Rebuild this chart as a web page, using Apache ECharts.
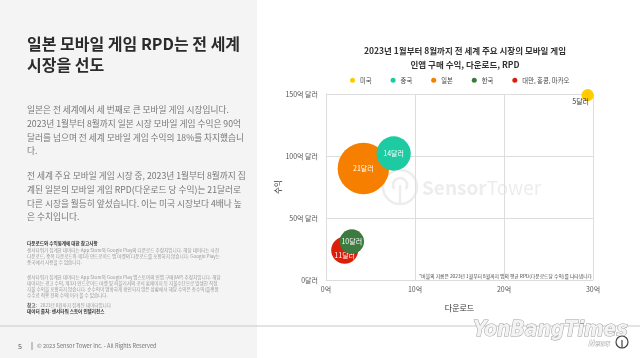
<!DOCTYPE html>
<html><head><meta charset="utf-8">
<script src="https://cdn.jsdelivr.net/npm/echarts@6/dist/echarts.min.js"></script>
<style>html,body{margin:0;padding:0;background:#fff}#c{width:640px;height:358px}</style>
</head><body><div id="c"></div>
<script>
const markets = ['미국', '중국', '일본', '한국', '대만, 홍콩, 마카오'];
const downloads = [29.4, 7.6, 4.2, 2.9, 2.1];   // 억 건
const revenue = [149, 102, 90, 31, 24];         // 억 달러
const rpd = [5, 14, 21, 10, 11];                // 달러
const xTicks = ['0억', '10억', '20억', '30억'];
const yTicks = ['0달러', '50억 달러', '100억 달러', '150억 달러'];

const colors = ['#FFCC00', '#1DCBA2', '#F77F00', '#3D7A3F', '#DA1F0B'];
const FONT = '"Noto Sans CJK KR", "Noto Sans", sans-serif';

const chart = echarts.init(document.getElementById('c'), null, {renderer: 'canvas'});

const labelCfg = [
  {position: 'inside', offset: [-7, 6], color: '#333'},
  {position: 'inside', color: '#fff'},
  {position: 'inside', color: '#fff'},
  {position: 'inside', color: '#fff'},
  {position: 'inside', offset: [0, 5], color: '#fff'}
];
const zOrder = [5, 4, 2, 4, 3];

const series = markets.map((m, i) => ({
  name: m,
  type: 'scatter',
  z: zOrder[i],
  data: [[downloads[i], revenue[i], rpd[i]]],
  symbolSize: d => d[2] * 2.45,
  itemStyle: {color: colors[i], opacity: 1},
  label: Object.assign({
    show: true,
    formatter: p => p.data[2] + '달러',
    fontSize: 7, fontFamily: FONT
  }, labelCfg[i]),
  emphasis: {disabled: true}
}));

const leftLines1 = [
  '일본은 전 세계에서 세 번째로 큰 모바일 게임 시장입니다.',
  '2023년 1월부터 8월까지 일본 시장 모바일 게임 수익은 90억',
  '달러를 넘으며 전 세계 모바일 게임 수익의 18%를 차지했습니',
  '다.'
];
const leftLines2 = [
  '전 세계 주요 모바일 게임 시장 중, 2023년 1월부터 8월까지 집',
  '계된 일본의 모바일 게임 RPD(다운로드 당 수익)는 21달러로',
  '다른 시장을 월등히 앞섰습니다. 이는 미국 시장보다 4배나 높',
  '은 수치입니다.'
];
const noteLines1 = [
  '센서타워가 집계한 데이터는 App Store와 Google Play의 다운로드 추정치입니다. 해당 데이터는 사전',
  '다운로드, 중복 다운로드와 제3자 안드로이드 앱 마켓의 다운로드를 포함하지 않습니다. Google Play는',
  '중국에서 사용할 수 없습니다.'
];
const noteLines2 = [
  '센서타워가 집계한 데이터는 App Store와 Google Play 앱스토어의 인앱 구매(IAP) 추정치입니다. 해당',
  '데이터는 광고 수익, 제3자 안드로이드 마켓 및 퍼블리셔의 공식 홈페이지 등 지불수단으로 발생한 직접',
  '지불 수익을 포함하지 않습니다. 순수익이 명확하게 확인되지 않은 상황에서 해당 수익은 총수익(플랫폼',
  '수수료 적용 전의 수익)이라 볼 수 있습니다.'
];

const g = [];
g.push({type: 'rect', shape: {x: 0, y: 0, width: 257, height: 358}, style: {fill: '#f4f4f4'}, z: -10, silent: true});
g.push({type: 'line', shape: {x1: 0, y1: 326, x2: 640, y2: 326}, style: {stroke: '#c8c8c8', lineWidth: 1}, z: -5, silent: true});
// headline
g.push({type: 'text', x: 27, y: 44, style: {text: '일본 모바일 게임 RPD는 전 세계', font: 'bold 16px ' + FONT, fill: '#2b2b2b', textVerticalAlign: 'middle'}});
g.push({type: 'text', x: 27, y: 65, style: {text: '시장을 선도', font: 'bold 16px ' + FONT, fill: '#2b2b2b', textVerticalAlign: 'middle'}});
leftLines1.forEach((t, k) => g.push({type: 'text', x: 27, y: 110 + k * 13.7, style: {text: t, font: '8.7px ' + FONT, fill: '#777', textVerticalAlign: 'middle'}}));
leftLines2.forEach((t, k) => g.push({type: 'text', x: 27, y: 176 + k * 13.7, style: {text: t, font: '8.7px ' + FONT, fill: '#777', textVerticalAlign: 'middle'}}));
g.push({type: 'text', x: 27, y: 243, style: {text: '다운로드와 수익통계에 대한 참고사항', font: 'bold 4.6px ' + FONT, fill: '#333', textVerticalAlign: 'middle'}});
noteLines1.forEach((t, k) => g.push({type: 'text', x: 27, y: 250 + k * 6, style: {text: t, font: '4.6px ' + FONT, fill: '#999', textVerticalAlign: 'middle'}}));
noteLines2.forEach((t, k) => g.push({type: 'text', x: 27, y: 277 + k * 6, style: {text: t, font: '4.6px ' + FONT, fill: '#999', textVerticalAlign: 'middle'}}));
g.push({type: 'text', x: 27, y: 305, style: {rich: {b: {font: 'bold 4.6px ' + FONT, fill: '#555'}, n: {font: '4.6px ' + FONT, fill: '#999'}}, text: '{b|참고:} {n|2023년 8월까지 집계된 데이터입니다}', textVerticalAlign: 'middle'}});
g.push({type: 'text', x: 27, y: 311, style: {text: '데이터 출처: 센서타워 스토어 인텔리전스', font: 'bold 4.6px ' + FONT, fill: '#333', textVerticalAlign: 'middle'}});
// footer
g.push({type: 'text', x: 18, y: 346, style: {text: '5', font: '7px ' + FONT, fill: '#555', textVerticalAlign: 'middle'}});
g.push({type: 'line', shape: {x1: 32, y1: 342, x2: 32, y2: 350}, style: {stroke: '#777', lineWidth: 0.8}});
g.push({type: 'text', x: 37, y: 346, style: {text: '© 2023 Sensor Tower Inc. - All Rights Reserved', font: '5.6px ' + FONT, fill: '#777', textVerticalAlign: 'middle'}});
// sensor tower watermark
g.push({type: 'circle', shape: {cx: 400, cy: 187, r: 17}, style: {fill: 'none', stroke: '#ededed', lineWidth: 2.5}, z: -1, silent: true});
g.push({type: 'arc', shape: {cx: 400, cy: 185, r: 7, startAngle: Math.PI * 0.8, endAngle: Math.PI * 2.2}, style: {fill: 'none', stroke: '#ededed', lineWidth: 2.5}, z: -1, silent: true});
g.push({type: 'line', shape: {x1: 400, y1: 185, x2: 400, y2: 204}, style: {stroke: '#ededed', lineWidth: 2.5}, z: -1, silent: true});
g.push({type: 'text', x: 422, y: 188, style: {rich: {a: {font: '600 19px ' + FONT, fill: '#ededed'}, b: {font: '19px ' + FONT, fill: '#ededed'}}, text: '{a|Sensor}{b|Tower}', textVerticalAlign: 'middle'}, z: -1, silent: true});
// footnote inside plot
g.push({type: 'text', x: 592, y: 276, style: {text: '*버블의 지름은 2023년 1월부터 8월까지 앱의 평균 RPD(다운로드당 수익)를 나타냅니다', font: '4.8px ' + FONT, fill: '#444', textAlign: 'right', textVerticalAlign: 'middle'}});
// yonbang watermark
g.push({type: 'text', x: 473, y: 331, style: {text: 'YonBangTimes', font: 'italic bold 21px "DejaVu Sans Condensed", "DejaVu Sans", sans-serif', fill: '#f3f3f3', stroke: '#a0a0a0', lineWidth: 1, textVerticalAlign: 'middle'}, z: 10});
g.push({type: 'text', x: 588, y: 343, style: {text: 'News', font: 'italic bold 8px ' + FONT, fill: '#f5f5f5', stroke: '#999', lineWidth: 0.6, textVerticalAlign: 'middle'}, z: 10});
g.push({type: 'circle', shape: {cx: 622, cy: 342, r: 6}, style: {fill: '#fff', stroke: '#444', lineWidth: 1.2}, z: 10});
g.push({type: 'line', shape: {x1: 622, y1: 340, x2: 622, y2: 348}, style: {stroke: '#444', lineWidth: 1.2}, z: 10});

chart.setOption({
  animation: false,
  backgroundColor: '#fff',
  textStyle: {fontFamily: FONT},
  title: {
    text: '2023년 1월부터 8월까지 전 세계 주요 시장의 모바일 게임\n인앱 구매 수익, 다운로드, RPD',
    left: 460, top: 39, textAlign: 'center',
    textStyle: {fontSize: 8.5, fontWeight: 'bold', color: '#333', lineHeight: 14, fontFamily: FONT}
  },
  legend: {
    data: markets, left: 345, top: 72, icon: 'circle', itemWidth: 5, itemHeight: 5, itemGap: 19,
    textStyle: {fontSize: 6.3, color: '#444', fontFamily: FONT}, selectedMode: false
  },
  grid: {left: 326, right: 47, top: 94, bottom: 78},
  xAxis: {
    type: 'value', min: 0, max: 30, interval: 10,
    name: '다운로드', nameLocation: 'middle', nameGap: 24,
    nameTextStyle: {fontSize: 8, color: '#333', fontFamily: FONT},
    axisLine: {show: true, lineStyle: {color: '#ddd'}}, axisTick: {show: false},
    axisLabel: {fontSize: 7, color: '#555', margin: 6, formatter: v => xTicks[Math.round(v / 10)]},
    splitLine: {show: true, lineStyle: {color: '#ddd'}}
  },
  yAxis: {
    type: 'value', min: 0, max: 150, interval: 50,
    name: '수익', nameLocation: 'middle', nameGap: 44, nameRotate: 90,
    nameTextStyle: {fontSize: 7.5, color: '#333', fontFamily: FONT},
    axisLine: {show: true, lineStyle: {color: '#ddd'}}, axisTick: {show: false},
    axisLabel: {fontSize: 7, color: '#555', margin: 8, formatter: v => yTicks[Math.round(v / 50)]},
    splitLine: {show: true, lineStyle: {color: '#ddd'}}
  },
  graphic: {elements: g},
  series: series
});
</script>
</body></html>
